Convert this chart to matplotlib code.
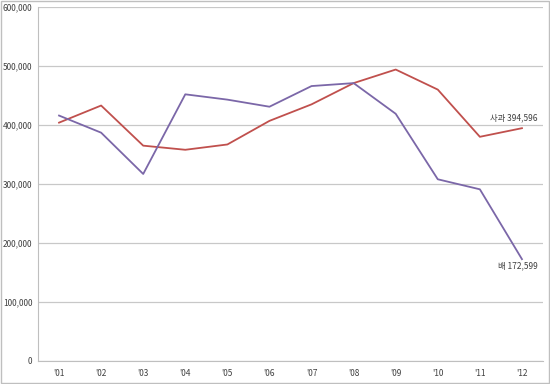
import matplotlib
matplotlib.use("Agg")
import matplotlib.pyplot as plt
from matplotlib.patches import Rectangle

plt.rcParams['font.family'] = ['Noto Sans CJK KR', 'DejaVu Sans']

years = ["'01", "'02", "'03", "'04", "'05", "'06", "'07", "'08", "'09", "'10", "'11", "'12"]
apple = [404000, 433000, 365000, 358000, 367000, 407000, 435000, 471000, 494000, 460000, 380000, 394596]
pear = [416000, 387000, 317000, 452000, 443000, 431000, 466000, 471000, 419000, 308000, 291000, 172599]
yticks = [0, 100000, 200000, 300000, 400000, 500000, 600000]

fig = plt.figure(figsize=(5.5, 3.84), dpi=100)
ax = fig.add_axes([38/550, 23/384, 505/550, 354/384])

x = list(range(len(years)))
ax.plot(x, apple, color='#C0504D', lw=1.3, zorder=3)
ax.plot(x, pear, color='#7B67A8', lw=1.3, zorder=3)

ax.set_xlim(-0.5, len(years) - 0.5)
ax.set_ylim(0, 600000)
ax.set_yticks(yticks)
ax.set_yticklabels([f"{v:,}" for v in yticks])
ax.set_xticks(x)
ax.set_xticklabels(years)
ax.grid(axis='y', color='#C8C8C8', lw=0.9)
ax.set_axisbelow(True)
for s in ['top', 'right']:
    ax.spines[s].set_visible(False)
ax.spines['left'].set_color('#BFBFBF')
ax.spines['bottom'].set_color('#BFBFBF')
ax.tick_params(axis='both', length=0, labelsize=6, colors='#404040')
ax.tick_params(axis='x', pad=6)
ax.tick_params(axis='y', pad=4)

ax.annotate(f"사과 {apple[-1]:,}", xy=(x[-1], apple[-1]), xytext=(16, 10),
            textcoords='offset pixels', ha='right', va='center', fontsize=6, color='#404040')
ax.annotate(f"배 {pear[-1]:,}", xy=(x[-1], pear[-1]), xytext=(16, -7),
            textcoords='offset pixels', ha='right', va='center', fontsize=6, color='#404040')

fig.patches.append(Rectangle((0.002, 0.003), 0.996, 0.994, transform=fig.transFigure,
                             fill=False, edgecolor='#BFBFBF', lw=1))

fig.savefig("out.png", dpi=100)
